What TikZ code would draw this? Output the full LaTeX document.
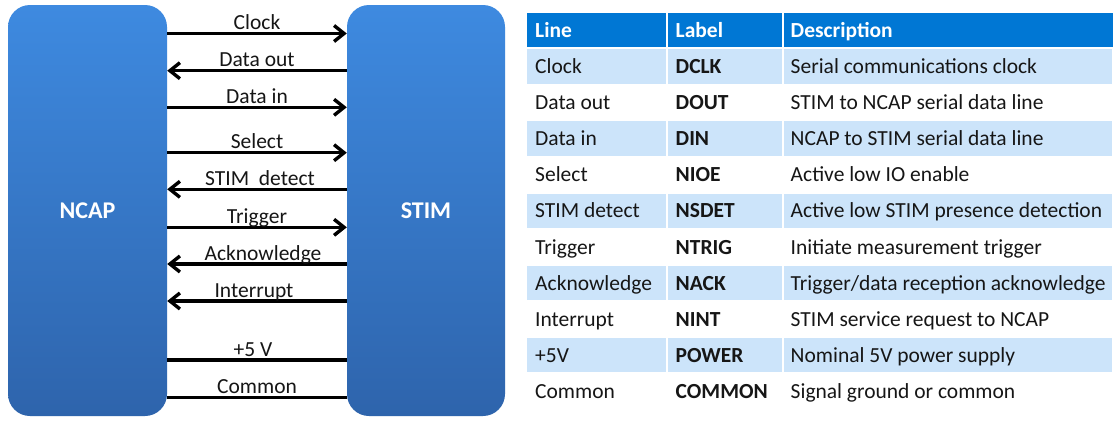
\documentclass[tikz,border=0pt]{standalone}
\usepackage{fontspec}
\setmainfont{Carlito}
\usetikzlibrary{arrows.meta}
\definecolor{boxtop}{RGB}{62,138,224}
\definecolor{boxbot}{RGB}{46,100,172}
\definecolor{hdr}{RGB}{0,119,212}
\definecolor{rowlt}{RGB}{204,228,250}
\definecolor{txt}{RGB}{22,22,22}
\newcommand\tabrow[4]{%
  \pgfmathsetmacro\ry{66.45+36.05*#1+7.3}%
  \node[cell] (la#1) at (535,\ry) {#2};
  \node[cell,font=\fontsize{21.5}{25}\selectfont\bfseries] (lb#1) at (675.5,\ry) {#3};
  \node[cell] (lc#1) at (790.5,\ry) {#4};
}
\begin{document}
\begin{tikzpicture}[x=1pt,y=-1pt,
  box/.style={rounded corners=22pt, minimum width=159pt, minimum height=411pt,
    top color=boxtop, bottom color=boxbot, draw=none, text=white,
    font=\fontsize{24}{28}\selectfont\bfseries, inner sep=0pt},
  sig/.style={line width=3.4pt, draw=black},
  fwd/.style={sig, -{Straight Barb[length=10pt,width=16pt]}},
  lbl/.style={anchor=base, inner sep=0pt, text=txt, font=\fontsize{21.5}{25}\selectfont, yshift=4pt},
  cell/.style={anchor=base west, inner sep=0pt, text=txt, font=\fontsize{21.5}{25}\selectfont},
  hcell/.style={anchor=base west, inner sep=0pt, text=white, font=\fontsize{21.5}{25}\selectfont\bfseries}]
\useasboundingbox (0,0) rectangle (1113,421);
\fill[white] (0,0) rectangle (1113,421);

% blocks
\node[box] (ncap) at (87.5,210.5) {NCAP};
\node[box, minimum width=158pt] (stim) at (426,210.5) {STIM};

% signals
\draw[fwd] (ncap.east |- 0,33.5) -- node[lbl,midway] (t1) {Clock} (stim.west |- 0,33.5);
\draw[fwd] (stim.west |- 0,70.7) -- node[lbl,midway] (t2) {Data out} (ncap.east |- 0,70.7);
\draw[fwd] (ncap.east |- 0,107.3) -- node[lbl,midway] (t3) {Data in} (stim.west |- 0,107.3);
\draw[fwd] (ncap.east |- 0,152.7) -- node[lbl,midway] (t4) {Select} (stim.west |- 0,152.7);
\draw[fwd] (stim.west |- 0,189.3) -- node[lbl,midway,xshift=3pt] (t5) {STIM~~detect} (ncap.east |- 0,189.3);
\draw[fwd] (ncap.east |- 0,227.3) -- node[lbl,midway] (t6) {Trigger} (stim.west |- 0,227.3);
\draw[fwd] (stim.west |- 0,264) -- node[lbl,midway,xshift=6pt] (t7) {Acknowledge} (ncap.east |- 0,264);
\draw[fwd] (stim.west |- 0,301) -- node[lbl,midway,xshift=-3pt] (t8) {Interrupt} (ncap.east |- 0,301);
\draw[sig] (ncap.east |- 0,360) -- node[lbl,midway,xshift=-4pt] (t9) {+5 V} (stim.west |- 0,360);
\draw[sig] (ncap.east |- 0,397.3) -- node[lbl,midway] (t10) {Common} (stim.west |- 0,397.3);

% table background
\fill[hdr] (527,13.3) rectangle (665.5,46.5);
\fill[hdr] (667.5,13.3) rectangle (781.5,46.5);
\fill[hdr] (783.5,13.3) rectangle (1113,46.5);
\foreach \i in {0,2,4,6,8}{
  \pgfmathsetmacro\ta{49.3+36.05*\i}
  \pgfmathsetmacro\tb{\ta+34.3}
  \fill[rowlt] (527,\ta) rectangle (665.5,\tb);
  \fill[rowlt] (667.5,\ta) rectangle (781.5,\tb);
  \fill[rowlt] (783.5,\ta) rectangle (1112,\tb);
}

% header
\node[hcell] (h1) at (535,37.3) {Line};
\node[hcell] (h2) at (675.5,37.3) {Label};
\node[hcell] (h3) at (790.5,37.3) {Description};

% rows
\tabrow{0}{Clock}{DCLK}{Serial communications clock}
\tabrow{1}{Data out}{DOUT}{STIM to NCAP serial data line}
\tabrow{2}{Data in}{DIN}{NCAP to STIM serial data line}
\tabrow{3}{Select}{NIOE}{Active low IO enable}
\tabrow{4}{STIM detect}{NSDET}{Active low STIM presence detection}
\tabrow{5}{Trigger}{NTRIG}{Initiate measurement trigger}
\tabrow{6}{Acknowledge}{NACK}{Trigger/data reception acknowledge}
\tabrow{7}{Interrupt}{NINT}{STIM service request to NCAP}
\tabrow{8}{+5V}{POWER}{Nominal 5V power supply}
\tabrow{9}{Common}{COMMON}{Signal ground or common}
\end{tikzpicture}
\end{document}
